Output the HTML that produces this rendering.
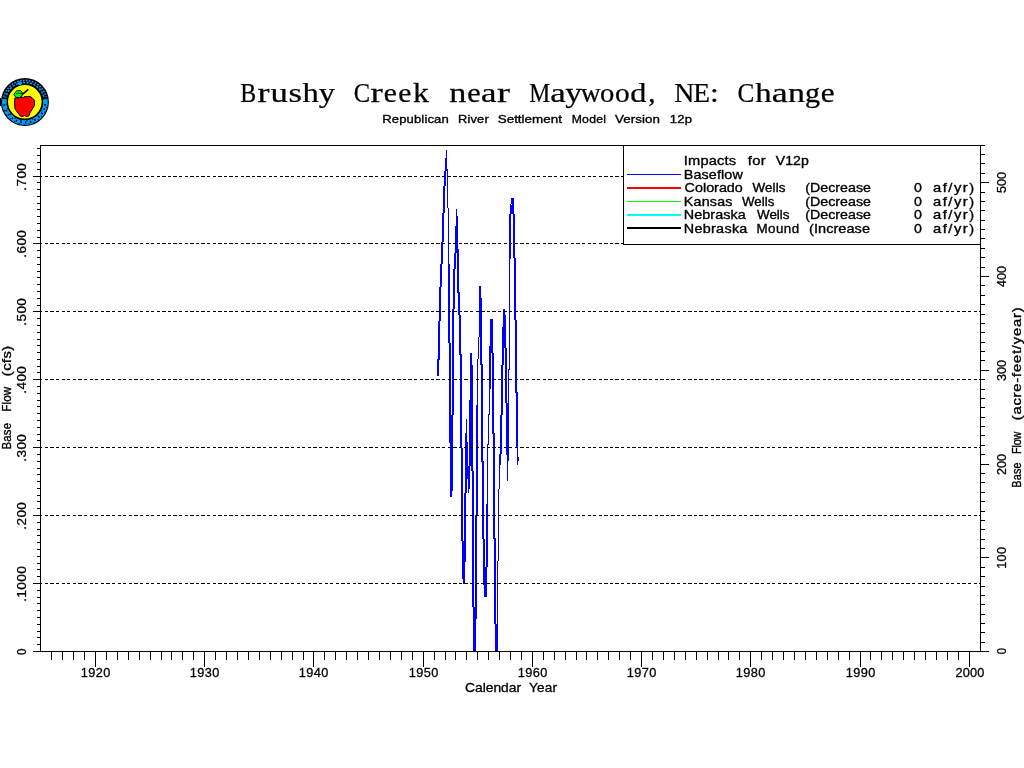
<!DOCTYPE html>
<html><head><meta charset="utf-8"><title>Brushy Creek near Maywood, NE: Change</title>
<style>html,body{margin:0;padding:0;background:#fff;}body{width:1024px;height:768px;overflow:hidden;}svg{display:block;}text{font-family:"Liberation Sans",sans-serif;fill:#000;}.s{stroke:#000;stroke-width:0.35px;}.l{stroke:#000;stroke-width:0.3px;}.t{stroke:#000;stroke-width:0.25px;}.t{font-family:"Liberation Serif",serif;}</style>
</head><body>
<svg width="1024" height="768" viewBox="0 0 1024 768">
<rect x="0" y="0" width="1024" height="768" fill="#fff"/>
<g shape-rendering="crispEdges" stroke="#000" stroke-width="1" fill="none">
<rect x="40.5" y="145.5" width="940" height="506"/>
<line x1="33" y1="651.5" x2="40" y2="651.5"/>
<line x1="37" y1="644.5" x2="40" y2="644.5"/>
<line x1="37" y1="637.5" x2="40" y2="637.5"/>
<line x1="37" y1="631.5" x2="40" y2="631.5"/>
<line x1="37" y1="624.5" x2="40" y2="624.5"/>
<line x1="37" y1="617.5" x2="40" y2="617.5"/>
<line x1="37" y1="610.5" x2="40" y2="610.5"/>
<line x1="37" y1="603.5" x2="40" y2="603.5"/>
<line x1="37" y1="597.5" x2="40" y2="597.5"/>
<line x1="37" y1="590.5" x2="40" y2="590.5"/>
<line x1="33" y1="583.5" x2="40" y2="583.5"/>
<line x1="37" y1="576.5" x2="40" y2="576.5"/>
<line x1="37" y1="569.5" x2="40" y2="569.5"/>
<line x1="37" y1="563.5" x2="40" y2="563.5"/>
<line x1="37" y1="556.5" x2="40" y2="556.5"/>
<line x1="37" y1="549.5" x2="40" y2="549.5"/>
<line x1="37" y1="542.5" x2="40" y2="542.5"/>
<line x1="37" y1="535.5" x2="40" y2="535.5"/>
<line x1="37" y1="529.5" x2="40" y2="529.5"/>
<line x1="37" y1="522.5" x2="40" y2="522.5"/>
<line x1="33" y1="515.5" x2="40" y2="515.5"/>
<line x1="37" y1="508.5" x2="40" y2="508.5"/>
<line x1="37" y1="501.5" x2="40" y2="501.5"/>
<line x1="37" y1="495.5" x2="40" y2="495.5"/>
<line x1="37" y1="488.5" x2="40" y2="488.5"/>
<line x1="37" y1="481.5" x2="40" y2="481.5"/>
<line x1="37" y1="474.5" x2="40" y2="474.5"/>
<line x1="37" y1="468.5" x2="40" y2="468.5"/>
<line x1="37" y1="461.5" x2="40" y2="461.5"/>
<line x1="37" y1="454.5" x2="40" y2="454.5"/>
<line x1="33" y1="447.5" x2="40" y2="447.5"/>
<line x1="37" y1="440.5" x2="40" y2="440.5"/>
<line x1="37" y1="434.5" x2="40" y2="434.5"/>
<line x1="37" y1="427.5" x2="40" y2="427.5"/>
<line x1="37" y1="420.5" x2="40" y2="420.5"/>
<line x1="37" y1="413.5" x2="40" y2="413.5"/>
<line x1="37" y1="406.5" x2="40" y2="406.5"/>
<line x1="37" y1="400.5" x2="40" y2="400.5"/>
<line x1="37" y1="393.5" x2="40" y2="393.5"/>
<line x1="37" y1="386.5" x2="40" y2="386.5"/>
<line x1="33" y1="379.5" x2="40" y2="379.5"/>
<line x1="37" y1="372.5" x2="40" y2="372.5"/>
<line x1="37" y1="366.5" x2="40" y2="366.5"/>
<line x1="37" y1="359.5" x2="40" y2="359.5"/>
<line x1="37" y1="352.5" x2="40" y2="352.5"/>
<line x1="37" y1="345.5" x2="40" y2="345.5"/>
<line x1="37" y1="339.5" x2="40" y2="339.5"/>
<line x1="37" y1="332.5" x2="40" y2="332.5"/>
<line x1="37" y1="325.5" x2="40" y2="325.5"/>
<line x1="37" y1="318.5" x2="40" y2="318.5"/>
<line x1="33" y1="311.5" x2="40" y2="311.5"/>
<line x1="37" y1="305.5" x2="40" y2="305.5"/>
<line x1="37" y1="298.5" x2="40" y2="298.5"/>
<line x1="37" y1="291.5" x2="40" y2="291.5"/>
<line x1="37" y1="284.5" x2="40" y2="284.5"/>
<line x1="37" y1="277.5" x2="40" y2="277.5"/>
<line x1="37" y1="271.5" x2="40" y2="271.5"/>
<line x1="37" y1="264.5" x2="40" y2="264.5"/>
<line x1="37" y1="257.5" x2="40" y2="257.5"/>
<line x1="37" y1="250.5" x2="40" y2="250.5"/>
<line x1="33" y1="243.5" x2="40" y2="243.5"/>
<line x1="37" y1="237.5" x2="40" y2="237.5"/>
<line x1="37" y1="230.5" x2="40" y2="230.5"/>
<line x1="37" y1="223.5" x2="40" y2="223.5"/>
<line x1="37" y1="216.5" x2="40" y2="216.5"/>
<line x1="37" y1="209.5" x2="40" y2="209.5"/>
<line x1="37" y1="203.5" x2="40" y2="203.5"/>
<line x1="37" y1="196.5" x2="40" y2="196.5"/>
<line x1="37" y1="189.5" x2="40" y2="189.5"/>
<line x1="37" y1="182.5" x2="40" y2="182.5"/>
<line x1="33" y1="176.5" x2="40" y2="176.5"/>
<line x1="37" y1="169.5" x2="40" y2="169.5"/>
<line x1="37" y1="162.5" x2="40" y2="162.5"/>
<line x1="37" y1="155.5" x2="40" y2="155.5"/>
<line x1="37" y1="148.5" x2="40" y2="148.5"/>
<line x1="981" y1="651.5" x2="989" y2="651.5"/>
<line x1="981" y1="642.5" x2="985" y2="642.5"/>
<line x1="981" y1="632.5" x2="985" y2="632.5"/>
<line x1="981" y1="623.5" x2="985" y2="623.5"/>
<line x1="981" y1="614.5" x2="985" y2="614.5"/>
<line x1="981" y1="604.5" x2="985" y2="604.5"/>
<line x1="981" y1="595.5" x2="985" y2="595.5"/>
<line x1="981" y1="586.5" x2="985" y2="586.5"/>
<line x1="981" y1="576.5" x2="985" y2="576.5"/>
<line x1="981" y1="567.5" x2="985" y2="567.5"/>
<line x1="981" y1="557.5" x2="989" y2="557.5"/>
<line x1="981" y1="548.5" x2="985" y2="548.5"/>
<line x1="981" y1="539.5" x2="985" y2="539.5"/>
<line x1="981" y1="529.5" x2="985" y2="529.5"/>
<line x1="981" y1="520.5" x2="985" y2="520.5"/>
<line x1="981" y1="511.5" x2="985" y2="511.5"/>
<line x1="981" y1="501.5" x2="985" y2="501.5"/>
<line x1="981" y1="492.5" x2="985" y2="492.5"/>
<line x1="981" y1="482.5" x2="985" y2="482.5"/>
<line x1="981" y1="473.5" x2="985" y2="473.5"/>
<line x1="981" y1="464.5" x2="989" y2="464.5"/>
<line x1="981" y1="454.5" x2="985" y2="454.5"/>
<line x1="981" y1="445.5" x2="985" y2="445.5"/>
<line x1="981" y1="435.5" x2="985" y2="435.5"/>
<line x1="981" y1="426.5" x2="985" y2="426.5"/>
<line x1="981" y1="417.5" x2="985" y2="417.5"/>
<line x1="981" y1="407.5" x2="985" y2="407.5"/>
<line x1="981" y1="398.5" x2="985" y2="398.5"/>
<line x1="981" y1="389.5" x2="985" y2="389.5"/>
<line x1="981" y1="379.5" x2="985" y2="379.5"/>
<line x1="981" y1="370.5" x2="989" y2="370.5"/>
<line x1="981" y1="360.5" x2="985" y2="360.5"/>
<line x1="981" y1="351.5" x2="985" y2="351.5"/>
<line x1="981" y1="342.5" x2="985" y2="342.5"/>
<line x1="981" y1="332.5" x2="985" y2="332.5"/>
<line x1="981" y1="323.5" x2="985" y2="323.5"/>
<line x1="981" y1="314.5" x2="985" y2="314.5"/>
<line x1="981" y1="304.5" x2="985" y2="304.5"/>
<line x1="981" y1="295.5" x2="985" y2="295.5"/>
<line x1="981" y1="285.5" x2="985" y2="285.5"/>
<line x1="981" y1="276.5" x2="989" y2="276.5"/>
<line x1="981" y1="267.5" x2="985" y2="267.5"/>
<line x1="981" y1="257.5" x2="985" y2="257.5"/>
<line x1="981" y1="248.5" x2="985" y2="248.5"/>
<line x1="981" y1="238.5" x2="985" y2="238.5"/>
<line x1="981" y1="229.5" x2="985" y2="229.5"/>
<line x1="981" y1="220.5" x2="985" y2="220.5"/>
<line x1="981" y1="210.5" x2="985" y2="210.5"/>
<line x1="981" y1="201.5" x2="985" y2="201.5"/>
<line x1="981" y1="192.5" x2="985" y2="192.5"/>
<line x1="981" y1="182.5" x2="989" y2="182.5"/>
<line x1="981" y1="173.5" x2="985" y2="173.5"/>
<line x1="981" y1="163.5" x2="985" y2="163.5"/>
<line x1="981" y1="154.5" x2="985" y2="154.5"/>
<line x1="981" y1="145.5" x2="985" y2="145.5"/>
<line x1="51.5" y1="652" x2="51.5" y2="660"/>
<line x1="62.5" y1="652" x2="62.5" y2="660"/>
<line x1="73.5" y1="652" x2="73.5" y2="660"/>
<line x1="84.5" y1="652" x2="84.5" y2="660"/>
<line x1="95.5" y1="652" x2="95.5" y2="667"/>
<line x1="106.5" y1="652" x2="106.5" y2="660"/>
<line x1="117.5" y1="652" x2="117.5" y2="660"/>
<line x1="128.5" y1="652" x2="128.5" y2="660"/>
<line x1="139.5" y1="652" x2="139.5" y2="660"/>
<line x1="150.5" y1="652" x2="150.5" y2="660"/>
<line x1="161.5" y1="652" x2="161.5" y2="660"/>
<line x1="171.5" y1="652" x2="171.5" y2="660"/>
<line x1="182.5" y1="652" x2="182.5" y2="660"/>
<line x1="193.5" y1="652" x2="193.5" y2="660"/>
<line x1="204.5" y1="652" x2="204.5" y2="667"/>
<line x1="215.5" y1="652" x2="215.5" y2="660"/>
<line x1="226.5" y1="652" x2="226.5" y2="660"/>
<line x1="237.5" y1="652" x2="237.5" y2="660"/>
<line x1="248.5" y1="652" x2="248.5" y2="660"/>
<line x1="259.5" y1="652" x2="259.5" y2="660"/>
<line x1="270.5" y1="652" x2="270.5" y2="660"/>
<line x1="281.5" y1="652" x2="281.5" y2="660"/>
<line x1="292.5" y1="652" x2="292.5" y2="660"/>
<line x1="303.5" y1="652" x2="303.5" y2="660"/>
<line x1="313.5" y1="652" x2="313.5" y2="667"/>
<line x1="324.5" y1="652" x2="324.5" y2="660"/>
<line x1="335.5" y1="652" x2="335.5" y2="660"/>
<line x1="346.5" y1="652" x2="346.5" y2="660"/>
<line x1="357.5" y1="652" x2="357.5" y2="660"/>
<line x1="368.5" y1="652" x2="368.5" y2="660"/>
<line x1="379.5" y1="652" x2="379.5" y2="660"/>
<line x1="390.5" y1="652" x2="390.5" y2="660"/>
<line x1="401.5" y1="652" x2="401.5" y2="660"/>
<line x1="412.5" y1="652" x2="412.5" y2="660"/>
<line x1="423.5" y1="652" x2="423.5" y2="667"/>
<line x1="434.5" y1="652" x2="434.5" y2="660"/>
<line x1="445.5" y1="652" x2="445.5" y2="660"/>
<line x1="455.5" y1="652" x2="455.5" y2="660"/>
<line x1="466.5" y1="652" x2="466.5" y2="660"/>
<line x1="477.5" y1="652" x2="477.5" y2="660"/>
<line x1="488.5" y1="652" x2="488.5" y2="660"/>
<line x1="499.5" y1="652" x2="499.5" y2="660"/>
<line x1="510.5" y1="652" x2="510.5" y2="660"/>
<line x1="521.5" y1="652" x2="521.5" y2="660"/>
<line x1="532.5" y1="652" x2="532.5" y2="667"/>
<line x1="543.5" y1="652" x2="543.5" y2="660"/>
<line x1="554.5" y1="652" x2="554.5" y2="660"/>
<line x1="565.5" y1="652" x2="565.5" y2="660"/>
<line x1="576.5" y1="652" x2="576.5" y2="660"/>
<line x1="586.5" y1="652" x2="586.5" y2="660"/>
<line x1="597.5" y1="652" x2="597.5" y2="660"/>
<line x1="608.5" y1="652" x2="608.5" y2="660"/>
<line x1="619.5" y1="652" x2="619.5" y2="660"/>
<line x1="630.5" y1="652" x2="630.5" y2="660"/>
<line x1="641.5" y1="652" x2="641.5" y2="667"/>
<line x1="652.5" y1="652" x2="652.5" y2="660"/>
<line x1="663.5" y1="652" x2="663.5" y2="660"/>
<line x1="674.5" y1="652" x2="674.5" y2="660"/>
<line x1="685.5" y1="652" x2="685.5" y2="660"/>
<line x1="696.5" y1="652" x2="696.5" y2="660"/>
<line x1="707.5" y1="652" x2="707.5" y2="660"/>
<line x1="718.5" y1="652" x2="718.5" y2="660"/>
<line x1="728.5" y1="652" x2="728.5" y2="660"/>
<line x1="739.5" y1="652" x2="739.5" y2="660"/>
<line x1="750.5" y1="652" x2="750.5" y2="667"/>
<line x1="761.5" y1="652" x2="761.5" y2="660"/>
<line x1="772.5" y1="652" x2="772.5" y2="660"/>
<line x1="783.5" y1="652" x2="783.5" y2="660"/>
<line x1="794.5" y1="652" x2="794.5" y2="660"/>
<line x1="805.5" y1="652" x2="805.5" y2="660"/>
<line x1="816.5" y1="652" x2="816.5" y2="660"/>
<line x1="827.5" y1="652" x2="827.5" y2="660"/>
<line x1="838.5" y1="652" x2="838.5" y2="660"/>
<line x1="849.5" y1="652" x2="849.5" y2="660"/>
<line x1="860.5" y1="652" x2="860.5" y2="667"/>
<line x1="870.5" y1="652" x2="870.5" y2="660"/>
<line x1="881.5" y1="652" x2="881.5" y2="660"/>
<line x1="892.5" y1="652" x2="892.5" y2="660"/>
<line x1="903.5" y1="652" x2="903.5" y2="660"/>
<line x1="914.5" y1="652" x2="914.5" y2="660"/>
<line x1="925.5" y1="652" x2="925.5" y2="660"/>
<line x1="936.5" y1="652" x2="936.5" y2="660"/>
<line x1="947.5" y1="652" x2="947.5" y2="660"/>
<line x1="958.5" y1="652" x2="958.5" y2="660"/>
<line x1="969.5" y1="652" x2="969.5" y2="667"/>
</g>
<g shape-rendering="crispEdges" fill="#0000ff" stroke="none">
<rect x="437" y="359" width="2" height="17"/>
<rect x="438" y="321" width="2" height="39"/>
<rect x="439" y="287" width="2" height="34"/>
<rect x="440" y="264" width="2" height="23"/>
<rect x="441" y="242" width="2" height="22"/>
<rect x="442" y="213" width="2" height="29"/>
<rect x="443" y="186" width="2" height="27"/>
<rect x="444" y="171" width="2" height="15"/>
<rect x="445" y="158" width="2" height="13"/>
<rect x="446" y="150" width="1" height="8"/>
<rect x="446" y="169" width="2" height="2"/>
<rect x="447" y="171" width="1" height="37"/>
<rect x="448" y="208" width="1" height="56"/>
<rect x="448" y="264" width="2" height="79"/>
<rect x="449" y="343" width="2" height="72"/>
<rect x="449" y="415" width="4" height="28"/>
<rect x="450" y="443" width="3" height="48"/>
<rect x="450" y="491" width="2" height="6"/>
<rect x="452" y="309" width="2" height="106"/>
<rect x="453" y="269" width="2" height="40"/>
<rect x="454" y="253" width="2" height="16"/>
<rect x="455" y="226" width="3" height="27"/>
<rect x="456" y="216" width="2" height="11"/>
<rect x="456" y="209" width="1" height="8"/>
<rect x="457" y="249" width="2" height="44"/>
<rect x="458" y="292" width="2" height="23"/>
<rect x="459" y="315" width="2" height="40"/>
<rect x="460" y="354" width="2" height="94"/>
<rect x="461" y="448" width="2" height="93"/>
<rect x="462" y="541" width="4" height="21"/>
<rect x="462" y="562" width="3" height="17"/>
<rect x="463" y="578" width="2" height="6"/>
<rect x="464" y="493" width="2" height="69"/>
<rect x="465" y="433" width="2" height="60"/>
<rect x="466" y="419" width="1" height="14"/>
<rect x="465" y="442" width="3" height="24"/>
<rect x="465" y="466" width="5" height="13"/>
<rect x="468" y="479" width="2" height="10"/>
<rect x="468" y="489" width="1" height="4"/>
<rect x="470" y="353" width="2" height="12"/>
<rect x="470" y="365" width="3" height="36"/>
<rect x="469" y="400" width="4" height="66"/>
<rect x="471" y="466" width="2" height="5"/>
<rect x="472" y="471" width="2" height="136"/>
<rect x="473" y="607" width="4" height="12"/>
<rect x="473" y="619" width="3" height="32"/>
<rect x="475" y="515" width="2" height="104"/>
<rect x="476" y="405" width="2" height="111"/>
<rect x="477" y="359" width="1" height="46"/>
<rect x="478" y="337" width="1" height="22"/>
<rect x="479" y="286" width="2" height="12"/>
<rect x="479" y="298" width="3" height="39"/>
<rect x="480" y="337" width="2" height="28"/>
<rect x="481" y="364" width="2" height="98"/>
<rect x="482" y="461" width="2" height="78"/>
<rect x="483" y="539" width="2" height="28"/>
<rect x="483" y="567" width="4" height="18"/>
<rect x="484" y="585" width="3" height="12"/>
<rect x="486" y="504" width="2" height="63"/>
<rect x="487" y="444" width="1" height="60"/>
<rect x="488" y="414" width="1" height="31"/>
<rect x="489" y="389" width="1" height="26"/>
<rect x="489" y="353" width="2" height="36"/>
<rect x="489" y="346" width="4" height="7"/>
<rect x="490" y="319" width="3" height="27"/>
<rect x="492" y="353" width="2" height="81"/>
<rect x="493" y="433" width="2" height="106"/>
<rect x="494" y="538" width="2" height="86"/>
<rect x="495" y="624" width="3" height="27"/>
<rect x="497" y="561" width="1" height="63"/>
<rect x="498" y="489" width="1" height="72"/>
<rect x="499" y="465" width="1" height="24"/>
<rect x="499" y="454" width="2" height="11"/>
<rect x="500" y="415" width="2" height="39"/>
<rect x="501" y="365" width="2" height="50"/>
<rect x="502" y="348" width="2" height="17"/>
<rect x="502" y="327" width="4" height="21"/>
<rect x="503" y="315" width="3" height="12"/>
<rect x="503" y="309" width="2" height="6"/>
<rect x="505" y="348" width="2" height="55"/>
<rect x="506" y="403" width="2" height="52"/>
<rect x="507" y="455" width="1" height="26"/>
<rect x="508" y="369" width="1" height="92"/>
<rect x="509" y="259" width="1" height="111"/>
<rect x="509" y="214" width="2" height="45"/>
<rect x="510" y="205" width="4" height="9"/>
<rect x="511" y="198" width="3" height="6"/>
<rect x="510" y="204" width="1" height="1"/>
<rect x="512" y="204" width="2" height="1"/>
<rect x="513" y="214" width="2" height="44"/>
<rect x="514" y="258" width="2" height="62"/>
<rect x="515" y="320" width="2" height="73"/>
<rect x="516" y="392" width="2" height="56"/>
<rect x="517" y="447" width="1" height="18"/>
<rect x="518" y="457" width="1" height="4"/>
</g>
<g shape-rendering="crispEdges" stroke="#000" stroke-width="1" fill="none">
<line x1="44.8" y1="583.5" x2="980" y2="583.5" stroke-dasharray="3.3 2.295"/>
<line x1="41" y1="583.5" x2="42" y2="583.5"/>
<line x1="44.8" y1="515.5" x2="980" y2="515.5" stroke-dasharray="3.3 2.295"/>
<line x1="41" y1="515.5" x2="42" y2="515.5"/>
<line x1="44.8" y1="447.5" x2="980" y2="447.5" stroke-dasharray="3.3 2.295"/>
<line x1="41" y1="447.5" x2="42" y2="447.5"/>
<line x1="44.8" y1="379.5" x2="980" y2="379.5" stroke-dasharray="3.3 2.295"/>
<line x1="41" y1="379.5" x2="42" y2="379.5"/>
<line x1="44.8" y1="311.5" x2="980" y2="311.5" stroke-dasharray="3.3 2.295"/>
<line x1="41" y1="311.5" x2="42" y2="311.5"/>
<line x1="44.8" y1="243.5" x2="980" y2="243.5" stroke-dasharray="3.3 2.295"/>
<line x1="41" y1="243.5" x2="42" y2="243.5"/>
<line x1="44.8" y1="176.5" x2="980" y2="176.5" stroke-dasharray="3.3 2.295"/>
<line x1="41" y1="176.5" x2="42" y2="176.5"/>
<rect x="623.5" y="145.5" width="357" height="99" fill="#fff"/>
</g>
<g shape-rendering="crispEdges" fill="none">
<line x1="627" y1="174.5" x2="681" y2="174.5" stroke="#0000ff" stroke-width="1"/>
<line x1="627" y1="188" x2="681" y2="188" stroke="#ff0000" stroke-width="2"/>
<line x1="627" y1="201.5" x2="681" y2="201.5" stroke="#00ff00" stroke-width="1"/>
<line x1="627" y1="215" x2="681" y2="215" stroke="#00ffff" stroke-width="2"/>
<line x1="627" y1="228" x2="681" y2="228" stroke="#000" stroke-width="2"/>
</g>
<g opacity="0.999">
<text class="t" transform="translate(240.34,102) scale(0.898,1)" font-size="26.6">B</text>
<text class="t" transform="translate(257.38,102) scale(1.356,1)" font-size="26.6">r</text>
<text class="t" transform="translate(270.57,102) scale(1.304,1)" font-size="26.6">u</text>
<text class="t" transform="translate(288.62,102) scale(1.299,1)" font-size="26.6">s</text>
<text class="t" transform="translate(302.57,102) scale(1.228,1)" font-size="26.6">h</text>
<text class="t" transform="translate(318.70,102) scale(1.217,1)" font-size="26.6">y</text>
<text class="t" transform="translate(353.77,102) scale(0.919,1)" font-size="26.6">C</text>
<text class="t" transform="translate(370.51,102) scale(1.387,1)" font-size="26.6">r</text>
<text class="t" transform="translate(383.81,102) scale(1.118,1)" font-size="26.6">e</text>
<text class="t" transform="translate(398.21,102) scale(1.118,1)" font-size="26.6">e</text>
<text class="t" transform="translate(413.11,102) scale(1.194,1)" font-size="26.6">k</text>
<text class="t" transform="translate(449.23,102) scale(1.284,1)" font-size="26.6">n</text>
<text class="t" transform="translate(467.19,102) scale(1.138,1)" font-size="26.6">e</text>
<text class="t" transform="translate(480.88,102) scale(1.313,1)" font-size="26.6">a</text>
<text class="t" transform="translate(496.97,102) scale(1.461,1)" font-size="26.6">r</text>
<text class="t" transform="translate(529.35,102) scale(0.885,1)" font-size="26.6">M</text>
<text class="t" transform="translate(550.28,102) scale(1.309,1)" font-size="26.6">a</text>
<text class="t" transform="translate(565.18,102) scale(1.252,1)" font-size="26.6">y</text>
<text class="t" transform="translate(580.75,102) scale(1.035,1)" font-size="26.6">w</text>
<text class="t" transform="translate(600.03,102) scale(1.075,1)" font-size="26.6">o</text>
<text class="t" transform="translate(615.00,102) scale(1.106,1)" font-size="26.6">o</text>
<text class="t" transform="translate(630.37,102) scale(1.213,1)" font-size="26.6">d</text>
<text class="t" transform="translate(648.16,102) scale(1.090,1)" font-size="26.6">,</text>
<text class="t" transform="translate(674.14,102) scale(1.045,1)" font-size="26.6">N</text>
<text class="t" transform="translate(693.25,102) scale(1.031,1)" font-size="26.6">E</text>
<text class="t" transform="translate(709.88,102) scale(1.184,1)" font-size="26.6">:</text>
<text class="t" transform="translate(737.49,102) scale(0.946,1)" font-size="26.6">C</text>
<text class="t" transform="translate(755.17,102) scale(1.228,1)" font-size="26.6">h</text>
<text class="t" transform="translate(771.74,102) scale(1.351,1)" font-size="26.6">a</text>
<text class="t" transform="translate(787.94,102) scale(1.276,1)" font-size="26.6">n</text>
<text class="t" transform="translate(804.97,102) scale(1.130,1)" font-size="26.6">g</text>
<text class="t" transform="translate(820.65,102) scale(1.179,1)" font-size="26.6">e</text>
<text class="s" transform="translate(382.18,123.0) scale(1.157,1)" font-size="11.3" textLength="57.54" lengthAdjust="spacing">Republican</text>
<text class="s" transform="translate(457.98,123.0) scale(1.134,1)" font-size="11.3" textLength="27.07" lengthAdjust="spacing">River</text>
<text class="s" transform="translate(497.72,123.0) scale(1.187,1)" font-size="11.3" textLength="54.11" lengthAdjust="spacing">Settlement</text>
<text class="s" transform="translate(571.68,123.0) scale(1.079,1)" font-size="11.3" textLength="31.78" lengthAdjust="spacing">Model</text>
<text class="s" transform="translate(615.00,123.0) scale(1.181,1)" font-size="11.3" textLength="38.05" lengthAdjust="spacing">Version</text>
<text class="s" transform="translate(669.67,123.0) scale(1.151,1)" font-size="11.3" textLength="19.40" lengthAdjust="spacing">12p</text>
<text class="s" transform="translate(683.79,165.0) scale(1.191,1)" font-size="12.3" textLength="43.99" lengthAdjust="spacing">Impacts</text>
<text class="s" transform="translate(747.65,165.0) scale(1.200,1)" font-size="12.3" textLength="15.04" lengthAdjust="spacing">for</text>
<text class="s" transform="translate(775.87,165.0) scale(1.146,1)" font-size="12.3" textLength="28.71" lengthAdjust="spacing">V12p</text>
<text class="s" transform="translate(683.82,178.8) scale(1.164,1)" font-size="12.3" textLength="50.68" lengthAdjust="spacing">Baseflow</text>
<text class="s" transform="translate(684.62,192.0) scale(1.164,1)" font-size="12.3" textLength="50.00" lengthAdjust="spacing">Colorado</text>
<text class="s" transform="translate(752.44,192.0) scale(1.092,1)" font-size="12.3" textLength="30.32" lengthAdjust="spacing">Wells</text>
<text class="s" transform="translate(683.81,205.7) scale(1.156,1)" font-size="12.3" textLength="42.02" lengthAdjust="spacing">Kansas</text>
<text class="s" transform="translate(742.00,205.7) scale(1.079,1)" font-size="12.3" textLength="30.01" lengthAdjust="spacing">Wells</text>
<text class="s" transform="translate(683.82,219.0) scale(1.168,1)" font-size="12.3" textLength="53.02" lengthAdjust="spacing">Nebraska</text>
<text class="s" transform="translate(757.04,219.0) scale(1.092,1)" font-size="12.3" textLength="29.59" lengthAdjust="spacing">Wells</text>
<text class="s" transform="translate(683.82,232.7) scale(1.168,1)" font-size="12.3" textLength="54.40" lengthAdjust="spacing">Nebraska</text>
<text class="s" transform="translate(756.52,232.7) scale(1.090,1)" font-size="12.3" textLength="39.15" lengthAdjust="spacing">Mound</text>
<text class="s" transform="translate(805.26,192.0) scale(1.153,1)" font-size="12.3" textLength="57.03" lengthAdjust="spacing">(Decrease</text>
<text class="s" transform="translate(805.26,205.7) scale(1.153,1)" font-size="12.3" textLength="57.03" lengthAdjust="spacing">(Decrease</text>
<text class="s" transform="translate(805.26,219.0) scale(1.153,1)" font-size="12.3" textLength="57.03" lengthAdjust="spacing">(Decrease</text>
<text class="s" transform="translate(809.08,232.7) scale(1.180,1)" font-size="12.3" textLength="51.62" lengthAdjust="spacing">(Increase</text>
<text class="s" x="914.10" y="192.0" font-size="12.3" textLength="7.90" lengthAdjust="spacingAndGlyphs">0</text>
<text class="s" transform="translate(933.00,192.0) scale(1.200,1)" font-size="12.3" textLength="34.26" lengthAdjust="spacing">af/yr)</text>
<text class="s" x="914.10" y="205.7" font-size="12.3" textLength="7.90" lengthAdjust="spacingAndGlyphs">0</text>
<text class="s" transform="translate(933.00,205.7) scale(1.200,1)" font-size="12.3" textLength="34.26" lengthAdjust="spacing">af/yr)</text>
<text class="s" x="914.10" y="219.0" font-size="12.3" textLength="7.90" lengthAdjust="spacingAndGlyphs">0</text>
<text class="s" transform="translate(933.00,219.0) scale(1.200,1)" font-size="12.3" textLength="34.26" lengthAdjust="spacing">af/yr)</text>
<text class="s" x="914.10" y="232.7" font-size="12.3" textLength="7.90" lengthAdjust="spacingAndGlyphs">0</text>
<text class="s" transform="translate(933.00,232.7) scale(1.200,1)" font-size="12.3" textLength="34.26" lengthAdjust="spacing">af/yr)</text>
<text class="l" transform="translate(80.71,677.0) scale(1.021,1)" font-size="12.5" textLength="29.01" lengthAdjust="spacing">1920</text>
<text class="l" transform="translate(189.71,677.0) scale(1.021,1)" font-size="12.5" textLength="29.01" lengthAdjust="spacing">1930</text>
<text class="l" transform="translate(298.71,677.0) scale(1.021,1)" font-size="12.5" textLength="29.01" lengthAdjust="spacing">1940</text>
<text class="l" transform="translate(408.71,677.0) scale(1.021,1)" font-size="12.5" textLength="29.01" lengthAdjust="spacing">1950</text>
<text class="l" transform="translate(517.71,677.0) scale(1.021,1)" font-size="12.5" textLength="29.01" lengthAdjust="spacing">1960</text>
<text class="l" transform="translate(626.71,677.0) scale(1.021,1)" font-size="12.5" textLength="29.01" lengthAdjust="spacing">1970</text>
<text class="l" transform="translate(735.71,677.0) scale(1.021,1)" font-size="12.5" textLength="29.01" lengthAdjust="spacing">1980</text>
<text class="l" transform="translate(845.71,677.0) scale(1.021,1)" font-size="12.5" textLength="29.01" lengthAdjust="spacing">1990</text>
<text class="l" transform="translate(955.54,677.0) scale(1.021,1)" font-size="12.5" textLength="28.20" lengthAdjust="spacing">2000</text>
<text class="l" transform="translate(465.00,692.0) scale(1.109,1)" font-size="12.5" textLength="50.57" lengthAdjust="spacing">Calendar</text>
<text class="l" transform="translate(529.05,692.0) scale(1.088,1)" font-size="12.5" textLength="25.68" lengthAdjust="spacing">Year</text>
<text class="l" transform="translate(25.6,190.65) rotate(-90) scale(1.080,1)" font-size="12.5" textLength="25.43" lengthAdjust="spacing">.700</text>
<text class="l" transform="translate(25.6,257.65) rotate(-90) scale(1.080,1)" font-size="12.5" textLength="25.43" lengthAdjust="spacing">.600</text>
<text class="l" transform="translate(25.6,325.65) rotate(-90) scale(1.080,1)" font-size="12.5" textLength="25.43" lengthAdjust="spacing">.500</text>
<text class="l" transform="translate(25.6,393.65) rotate(-90) scale(1.080,1)" font-size="12.5" textLength="25.43" lengthAdjust="spacing">.400</text>
<text class="l" transform="translate(25.6,461.65) rotate(-90) scale(1.080,1)" font-size="12.5" textLength="25.43" lengthAdjust="spacing">.300</text>
<text class="l" transform="translate(25.6,529.65) rotate(-90) scale(1.080,1)" font-size="12.5" textLength="25.43" lengthAdjust="spacing">.200</text>
<text class="l" transform="translate(25.6,601.80) rotate(-90) scale(1.103,1)" font-size="12.5" textLength="32.45" lengthAdjust="spacing">.1000</text>
<text class="l" transform="translate(25.6,655.00) rotate(-90)" font-size="12.5" textLength="6.49" lengthAdjust="spacingAndGlyphs">0</text>
<text class="l" transform="translate(1006.0,568.84) rotate(-90) scale(1.007,1)" font-size="12.5" textLength="21.69" lengthAdjust="spacing">100</text>
<text class="l" transform="translate(1006.0,475.00) rotate(-90) scale(1.007,1)" font-size="12.5" textLength="20.86" lengthAdjust="spacing">200</text>
<text class="l" transform="translate(1006.0,381.00) rotate(-90) scale(1.007,1)" font-size="12.5" textLength="20.86" lengthAdjust="spacing">300</text>
<text class="l" transform="translate(1006.0,287.00) rotate(-90) scale(1.007,1)" font-size="12.5" textLength="20.86" lengthAdjust="spacing">400</text>
<text class="l" transform="translate(1006.0,193.00) rotate(-90) scale(1.007,1)" font-size="12.5" textLength="20.86" lengthAdjust="spacing">500</text>
<text class="l" transform="translate(1006.0,654.31) rotate(-90)" font-size="12.5" textLength="6.31" lengthAdjust="spacingAndGlyphs">0</text>
<text class="s" transform="translate(10.6,449.49) rotate(-90) scale(0.920,1)" font-size="12.3" textLength="28.78" lengthAdjust="spacing">Base</text>
<text class="s" transform="translate(10.6,411.82) rotate(-90) scale(0.943,1)" font-size="12.3" textLength="26.45" lengthAdjust="spacing">Flow</text>
<text class="s" transform="translate(10.6,376.16) rotate(-90) scale(1.200,1)" font-size="12.3" textLength="25.28" lengthAdjust="spacing">(cfs)</text>
<text class="s" transform="translate(1020.8,487.79) rotate(-90) scale(0.881,1)" font-size="12.3" textLength="28.82" lengthAdjust="spacing">Base</text>
<text class="s" transform="translate(1020.8,453.98) rotate(-90) scale(0.880,1)" font-size="12.3" textLength="25.38" lengthAdjust="spacing">Flow</text>
<text class="s" transform="translate(1020.8,420.27) rotate(-90) scale(1.200,1)" font-size="12.3" textLength="94.03" lengthAdjust="spacing">(acre-feet/year)</text>
</g>
<g id="logo">
<rect x="0" y="98" width="1" height="8" fill="#000" shape-rendering="crispEdges"/>
<circle cx="24.9" cy="102.0" r="24" fill="#000"/>
<path d="M45.30,99.13 A20.6,20.6 0 1 1 4.50,99.13" fill="none" stroke="#00a0ff" stroke-width="4.6"/>
<path d="M44.40,108.33 A20.5,20.5 0 0 1 5.10,107.31" fill="none" stroke="#000" stroke-width="2" stroke-dasharray="1.5 3.3"/>
<path d="M47.02,103.93 A22.2,22.2 0 0 1 2.78,103.93" fill="none" stroke="#000" stroke-width="1.1" stroke-dasharray="1.1 3.9" stroke-dashoffset="2"/>
<path d="M43.61,105.30 A19,19 0 0 1 6.08,104.64" fill="none" stroke="#000" stroke-width="1.1" stroke-dasharray="1 5.2" stroke-dashoffset="1"/>
<rect x="3.6" y="104" width="1.7" height="1.7" fill="#000"/>
<rect x="44.4" y="104" width="1.7" height="1.7" fill="#000"/>
<path d="M3.76,97.12 A21.7,21.7 0 0 1 46.04,97.12" fill="none" stroke="#00a0ff" stroke-width="1.5" stroke-dasharray="1.7 1.3"/>
<path d="M5.80,97.59 A19.6,19.6 0 0 1 44.00,97.59" fill="none" stroke="#00a0ff" stroke-width="1.5" stroke-dasharray="2.2 1.4" stroke-dashoffset="1"/>
<path d="M17,83.5 L20,81 L22.5,83.5 L20,85.5 Z" fill="#00a0ff"/>
<circle cx="24.8" cy="101.8" r="16.8" fill="#ffff00"/>
<path d="M14.8,98 L23.5,97.3 L24,96.7 L30.8,96.6 L34.5,100.3 L34.5,105.5 L33.5,107 L30.2,112.5 L29,115.8 L28,116.3 L25.5,116.3 L24.4,115.3 L23.5,116.3 L20.5,116.3 L18,113 L15,108.8 L14.7,105 Z" fill="#ff0000" stroke="#000" stroke-width="1"/>
<path d="M13.9,94.2 L16.6,90.8 L20.6,90.6 L22.4,92.6 L21.9,96.2 L19.5,97.6 L15.8,97.3 Z" fill="#00ff00" stroke="#000" stroke-width="0.9"/>
<line x1="16" y1="93.5" x2="22" y2="93.2" stroke="#000" stroke-width="0.7"/>
<line x1="22.2" y1="94.6" x2="28.3" y2="89.4" stroke="#000" stroke-width="1.5"/>
</g>

</svg></body></html>
